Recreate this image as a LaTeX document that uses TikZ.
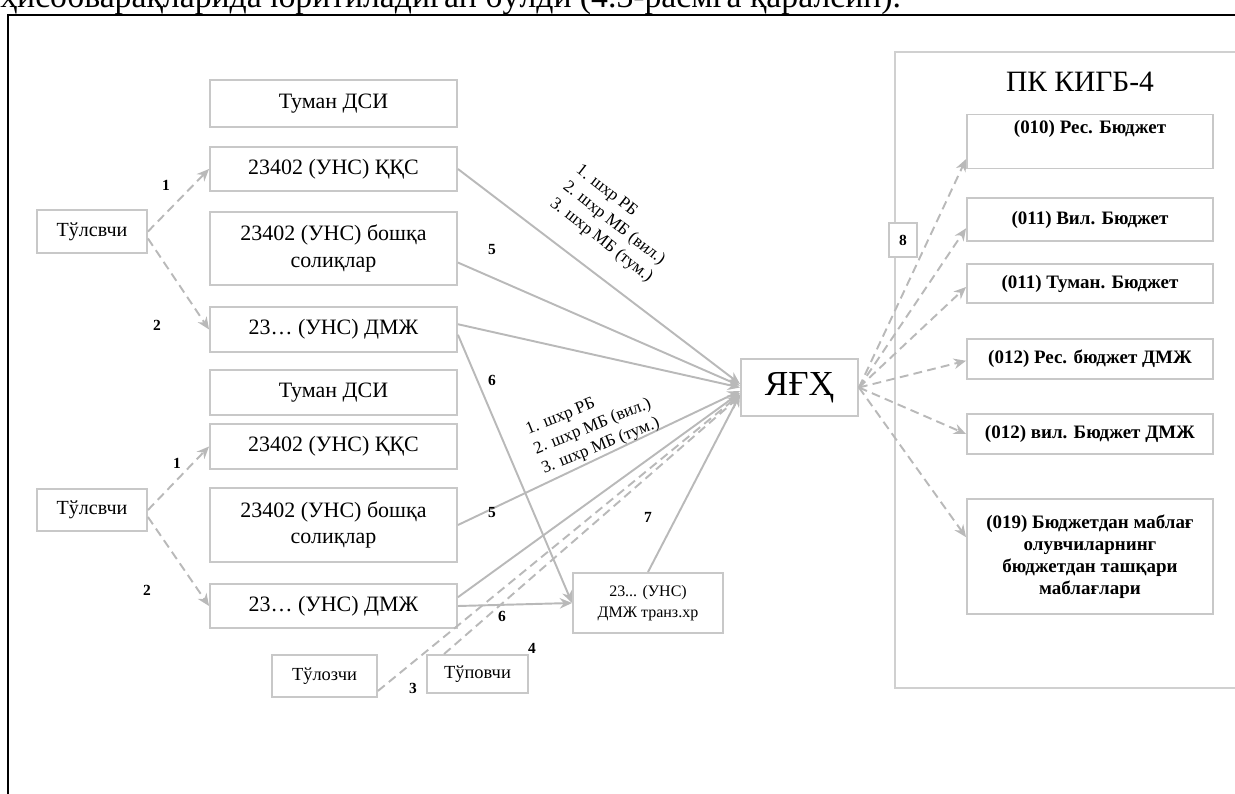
\documentclass[tikz,border=0pt]{standalone}
\usepackage{fontspec}
\setmainfont{Liberation Serif}
\usetikzlibrary{arrows.meta,positioning}
\definecolor{lineCol}{RGB}{185,185,185}
\definecolor{boxCol}{RGB}{200,200,200}
\definecolor{frameCol}{RGB}{208,208,208}

\begin{document}
\begin{tikzpicture}[
    x=0.02cm, y=-0.02cm,
    >={Stealth[length=7pt, width=6pt]},
    box/.style={draw=boxCol, line width=1.1pt, fill=white, inner sep=2pt, align=center,
        font=\fontsize{12.5}{15}\selectfont},
    budgetBox/.style={draw=boxCol, line width=1.1pt, fill=white, inner sep=2pt, align=center,
        minimum width=4.92cm, font=\fontsize{10.8}{13}\selectfont\bfseries},
    numLabel/.style={font=\fontsize{8.8}{10}\selectfont\bfseries},
    flowLine/.style={->, draw=lineCol, line width=1.1pt},
    flowDash/.style={->, draw=lineCol, line width=1.1pt, dashed, dash pattern=on 5pt off 3pt},
    shLabel/.style={align=left, font=\fontsize{9.8}{12}\selectfont}
]
    \useasboundingbox (0,0) rectangle (1235,794);

    % ---------------- page text and frame ----------------
    \node[anchor=base west, inner sep=0, font=\fontsize{19.2}{22}\selectfont] (pageText) at (0,8)
        {ҳисобварақларида юритиладиган бўлди (4.3-расмга қаралсин).};
    \draw[line width=1.5pt] (1240,15) -- (8,15) -- (8,800);

    % ---------------- upper group ----------------
    \node[box, minimum width=4.94cm, minimum height=0.94cm] (tumanA) at (333.5,103.5) {Туман ДСИ};
    \node[box, minimum width=4.94cm, minimum height=0.88cm] (qqsA) at (333.5,169) {23402 (УНС) ҚҚС};
    \node[box, minimum width=4.94cm, minimum height=1.46cm] (boshqaA) at (333.5,248.5) {23402 (УНС) бошқа\\солиқлар};
    \node[box, minimum width=4.94cm, minimum height=0.9cm] (dmzA) at (333.5,329.5) {23\dots\ (УНС) ДМЖ};
    \node[box, minimum width=2.2cm, minimum height=0.86cm, font=\fontsize{11.4}{13}\selectfont] (tulA) at (92,231.5) {Тўлсвчи};

    % ---------------- lower group ----------------
    \node[box, minimum width=4.94cm, minimum height=0.9cm] (tumanB) at (333.5,392.5) {Туман ДСИ};
    \node[box, minimum width=4.94cm, minimum height=0.9cm] (qqsB) at (333.5,446.5) {23402 (УНС) ҚҚС};
    \node[box, minimum width=4.94cm, minimum height=1.48cm] (boshqaB) at (333.5,525) {23402 (УНС) бошқа\\солиқлар};
    \node[box, minimum width=4.94cm, minimum height=0.88cm] (dmzB) at (333.5,606) {23\dots\ (УНС) ДМЖ};
    \node[box, minimum width=2.2cm, minimum height=0.84cm, font=\fontsize{11.4}{13}\selectfont] (tulB) at (92,510) {Тўлсвчи};

    % ---------------- bottom payers, transit, centre ----------------
    \node[box, minimum width=2.1cm, minimum height=0.84cm, font=\fontsize{10.5}{12}\selectfont] (tulC) at (324.5,676) {Тўлозчи};
    \node[box, minimum width=2.02cm, minimum height=0.76cm, font=\fontsize{10.5}{12}\selectfont] (tulD) at (477.5,674) {Тўповчи};
    \node[box, minimum width=3cm, minimum height=1.2cm, font=\fontsize{9.1}{12}\selectfont] (transit) at (648,603) {23... (УНС)\\ДМЖ транз.хр};
    \node[box, minimum width=2.34cm, minimum height=1.14cm, font=\fontsize{20}{22}\selectfont] (yfx) at (799.5,387.5) {ЯҒҲ};

    % ---------------- ПК КИГБ-4 ----------------
    \draw[draw=frameCol, line width=1.1pt] (1240,52) -- (895,52) -- (895,688) -- (1240,688);
    \node[font=\fontsize{16.8}{19}\selectfont] (pkTitle) at (1080,82) {ПК КИГБ-4};
    \node[budgetBox, text height=0.28cm, text depth=0.6cm, inner ysep=0.1cm] (rbA) at (1090,141.5) {(010) Рес. Бюджет};
    \node[budgetBox, minimum height=0.86cm] (rbB) at (1090,219.5) {(011) Вил. Бюджет};
    \node[budgetBox, minimum height=0.78cm] (rbC) at (1090,283.5) {(011) Туман. Бюджет};
    \node[budgetBox, minimum height=0.8cm] (rbD) at (1090,359) {(012) Рес. бюджет ДМЖ};
    \node[budgetBox, minimum height=0.8cm] (rbE) at (1090,434) {(012) вил. Бюджет ДМЖ};
    \node[budgetBox, minimum height=2.3cm, font=\fontsize{10.8}{12.6}\selectfont\bfseries] (rbF) at (1090,556.5)
        {(019) Бюджетдан маблағ\\олувчиларнинг\\бюджетдан ташқари\\маблағлари};

    % ---------------- payers to accounts ----------------
    \draw[flowDash] (tulA.east) -- (qqsA.west);
    \draw[flowDash] ([yshift=-4pt]tulA.east) -- (dmzA.west);
    \draw[flowDash] (tulB.east) -- (qqsB.west);
    \draw[flowDash] ([yshift=-4pt]tulB.east) -- (dmzB.west);
    \node[numLabel] (nA1) at (166,185) {1};
    \node[numLabel] (nA2) at (157,325) {2};
    \node[numLabel] (nB1) at (177,463) {1};
    \node[numLabel] (nB2) at (147,590) {2};

    % ---------------- accounts to ЯҒҲ ----------------
    \draw[flowLine] (qqsA.east) -- ([yshift=2pt]yfx.west);
    \draw[flowLine] ([yshift=-8pt]boshqaA.east) -- ([yshift=1pt]yfx.west);
    \draw[flowLine] ([yshift=3pt]dmzA.east) -- (yfx.west);
    \draw[flowLine] (boshqaB.east) -- ([yshift=-2pt]yfx.west);
    \draw[flowLine] ([yshift=5pt]dmzB.east) -- ([yshift=-3pt]yfx.west);
    \draw[flowLine] ([yshift=-3pt]dmzA.east) -- (transit.west);
    \draw[flowLine] (dmzB.east) -- (transit.west);
    \draw[flowLine] (transit.north) -- ([yshift=-4pt]yfx.west);
    \draw[flowDash] ([yshift=4pt]tulC.south east) -- ([yshift=-4pt]yfx.west);
    \draw[flowDash] ([xshift=0.36cm]tulD.north west) -- ([yshift=-5pt]yfx.west);

    \node[shLabel, rotate=-38] (shA) at (614,224) {1. шхр РБ\\2. шхр МБ (вил.)\\3. шхр МБ (тум.)};
    \node[shLabel, rotate=22] (shB) at (593,427) {1. шхр РБ\\2. шхр МБ (вил.)\\3. шхр МБ (тум.)};
    \node[numLabel] (n5a) at (492,250) {5};
    \node[numLabel] (n6a) at (492,380) {6};
    \node[numLabel] (n5b) at (492,513) {5};
    \node[numLabel] (n6b) at (502,616) {6};
    \node[numLabel] (n7) at (648,517) {7};
    \node[numLabel] (n3) at (413,688) {3};
    \node[numLabel] (n4) at (532,648) {4};

    % ---------------- ЯҒҲ to budgets ----------------
    \foreach \b/\s in {rbA/-10pt, rbB/-5pt, rbC/-2pt, rbD/-1pt, rbE/0pt, rbF/11pt} {
        \draw[flowDash] (yfx.east) -- ([yshift=\s]\b.west);
    }
    \node[draw=boxCol, line width=1.1pt, fill=white, minimum width=0.56cm, minimum height=0.68cm, numLabel] (eight) at (903,240) {8};

\end{tikzpicture}
\end{document}
